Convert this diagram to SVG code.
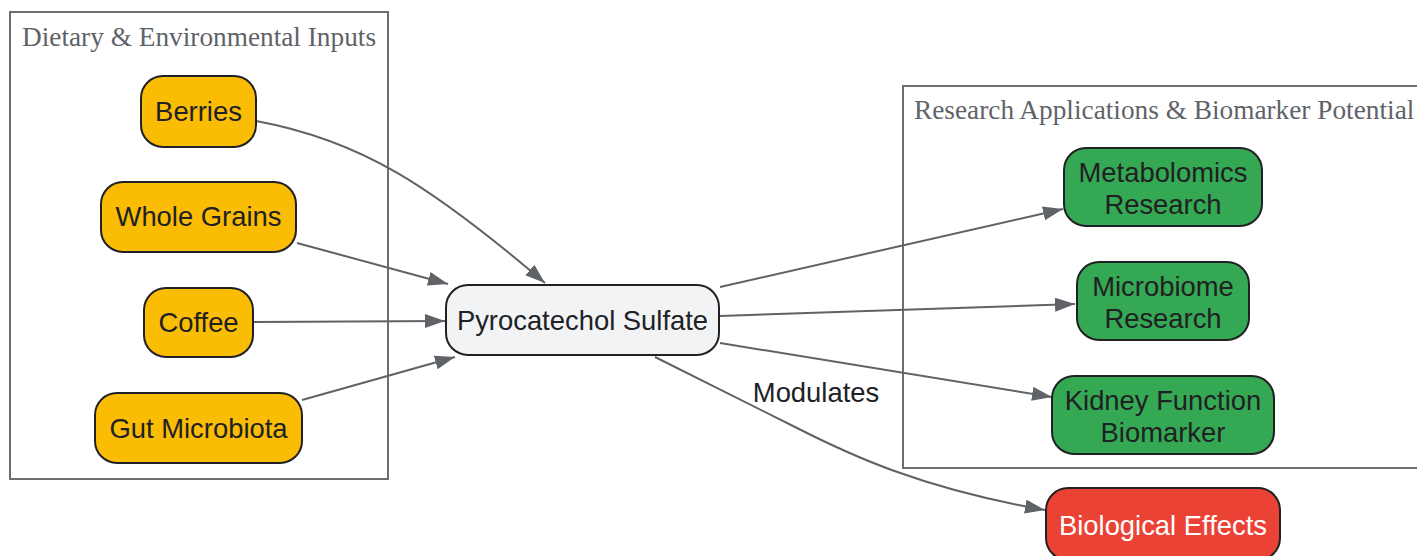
<svg xmlns="http://www.w3.org/2000/svg" width="1417" height="556" viewBox="0 0 1417 556">
<defs>
<marker id="arr" markerUnits="userSpaceOnUse" markerWidth="22" markerHeight="16" refX="20" refY="7" orient="auto">
<path d="M0,0 L20,7 L0,14 z" fill="#5f6368"/>
</marker>
<style>
.cl{fill:none;stroke:#6b6e72;stroke-width:2}
.ct{font-family:"Liberation Serif",serif;font-size:27.3px;fill:#5f6368}
.n{stroke:#202124;stroke-width:2}
.y{fill:#fbbc04}
.g{fill:#34a853}
.r{fill:#ea4335}
.c{fill:#f1f3f4}
.t{font-family:"Liberation Sans",Arial,sans-serif;font-size:27.4px;fill:#202124;text-anchor:middle}
.w{fill:#ffffff}
.e{fill:none;stroke:#5f6368;stroke-width:2;marker-end:url(#arr)}
.lb{font-family:"Liberation Sans",Arial,sans-serif;font-size:27.4px;fill:#202124;text-anchor:middle}
</style>
</defs>
<rect width="1417" height="556" fill="#ffffff"/>
<g id="cluster-inputs">
<rect class="cl" x="10" y="12" width="378" height="467"/>
<text class="ct" x="22" y="46">Dietary &amp; Environmental Inputs</text>
</g>
<g id="cluster-research">
<rect class="cl" x="903" y="86" width="530" height="382"/>
<text class="ct" x="914" y="119">Research Applications &amp; Biomarker Potential</text>
</g>
<g id="connectors">
<path class="e" d="M256,121 C360,140 430,185 545,283"/>
<path class="e" d="M297,243 L448,284"/>
<path class="e" d="M254,322 L445,321"/>
<path class="e" d="M302,400 L455,357"/>
<path class="e" d="M720,287 L1063,209"/>
<path class="e" d="M720,316 L1075,304"/>
<path class="e" d="M720,343 L1052,397"/>
<path class="e" d="M655,357 L795,427 C850,455 920,488 1045,510"/>
<text class="lb" x="816" y="402">Modulates</text>
</g>
<g id="node-berries">
<rect class="n y" x="141" y="76" width="115" height="71" rx="22"/>
<text class="t" x="198.5" y="121">Berries</text>
</g>
<g id="node-wholegrains">
<rect class="n y" x="101" y="182" width="195" height="70" rx="22"/>
<text class="t" x="198.5" y="226">Whole Grains</text>
</g>
<g id="node-coffee">
<rect class="n y" x="144" y="288" width="109" height="69" rx="22"/>
<text class="t" x="198.5" y="332">Coffee</text>
</g>
<g id="node-gut">
<rect class="n y" x="95" y="393" width="207" height="70" rx="22"/>
<text class="t" x="198.5" y="438">Gut Microbiota</text>
</g>
<g id="node-ps">
<rect class="n c" x="446" y="285" width="273" height="70" rx="22"/>
<text class="t" x="582.5" y="330">Pyrocatechol Sulfate</text>
</g>
<g id="node-metabolomics">
<rect class="n g" x="1064" y="148" width="198" height="78" rx="22"/>
<text class="t" x="1163" y="182">Metabolomics</text>
<text class="t" x="1163" y="214">Research</text>
</g>
<g id="node-microbiome">
<rect class="n g" x="1077" y="262" width="172" height="78" rx="22"/>
<text class="t" x="1163" y="296">Microbiome</text>
<text class="t" x="1163" y="328">Research</text>
</g>
<g id="node-kidney">
<rect class="n g" x="1052" y="376" width="222" height="78" rx="22"/>
<text class="t" x="1163" y="410">Kidney Function</text>
<text class="t" x="1163" y="442">Biomarker</text>
</g>
<g id="node-bio">
<rect class="n r" x="1046" y="488" width="234" height="72" rx="22"/>
<text class="t w" x="1163" y="535">Biological Effects</text>
</g>
</svg>
